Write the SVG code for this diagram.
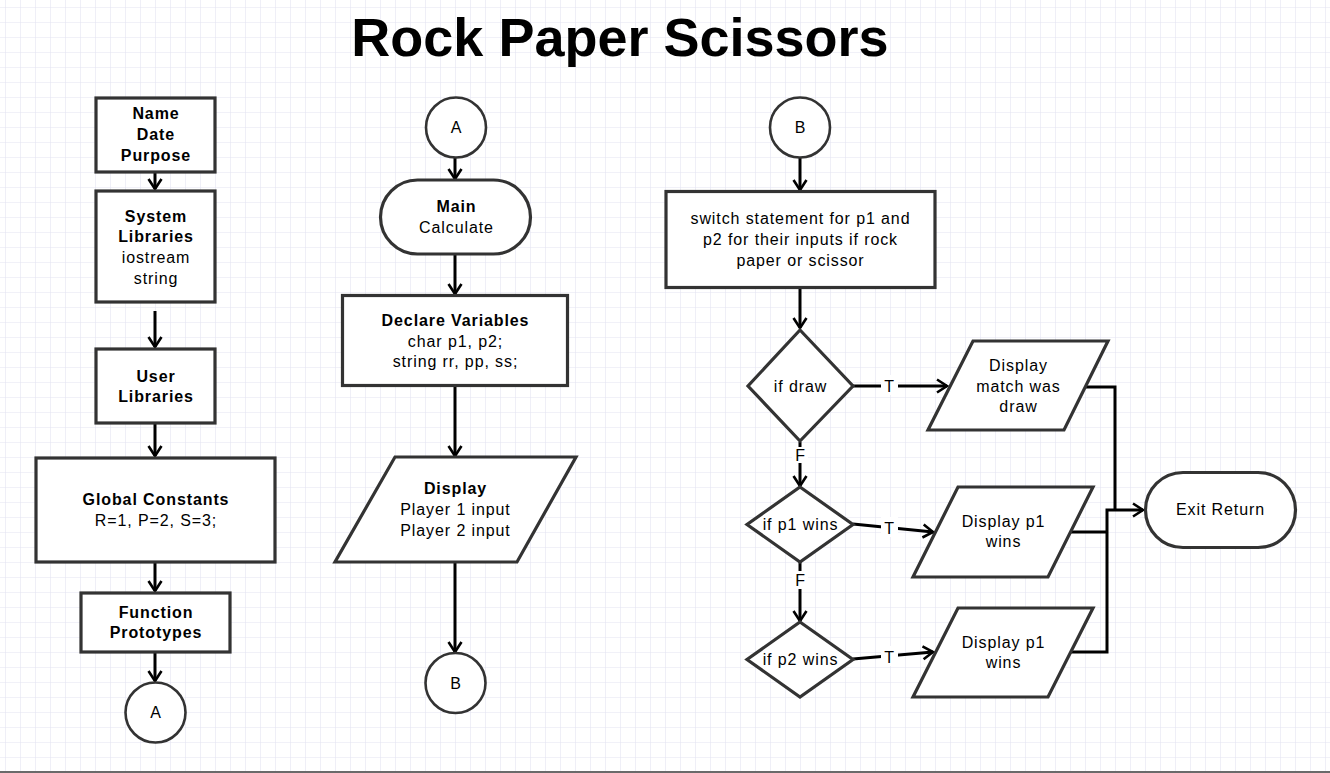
<svg xmlns="http://www.w3.org/2000/svg" width="1330" height="773" viewBox="0 0 1330 773">
<defs>
<pattern id="grid" x="5" y="7" width="15" height="15" patternUnits="userSpaceOnUse">
<path d="M0,0 H15 M0,0 V15" fill="none" stroke="#e4e4f2" stroke-width="1.2"/>
</pattern>
<marker id="arr" viewBox="-12 -8 14 16" refX="0" refY="0" markerWidth="14" markerHeight="16" orient="auto" markerUnits="userSpaceOnUse">
<path d="M-10,-6.5 L0,0 L-10,6.5" fill="none" stroke="#000" stroke-width="2.6"/>
</marker>
<style>
.box{fill:#fff;stroke:#333;stroke-width:3.2}
.circ{fill:#fff;stroke:#333;stroke-width:2.6}
.t{font-family:"Liberation Sans",Arial,sans-serif;font-size:16px;letter-spacing:0.9px;fill:#000;text-anchor:middle}
.b{font-weight:bold}
.c{fill:none;stroke:#000;stroke-width:3}
.lbl{fill:#fff;stroke:none}
</style>
</defs>
<rect x="0" y="0" width="1330" height="773" fill="#fff"/>
<rect x="0" y="0" width="1330" height="773" fill="url(#grid)"/>
<line x1="0" y1="772" x2="1330" y2="772" stroke="#6a6a6a" stroke-width="2"/>

<text x="620" y="56" style="font-family:'Liberation Sans',Arial,sans-serif;font-size:54px;font-weight:bold;text-anchor:middle">Rock Paper Scissors</text>

<g id="connectors">
<path class="c" d="M155,172 V189" marker-end="url(#arr)"/>
<path class="c" d="M155,311 V347" marker-end="url(#arr)"/>
<path class="c" d="M155,423 V456" marker-end="url(#arr)"/>
<path class="c" d="M155,563 V591" marker-end="url(#arr)"/>
<path class="c" d="M155,652 V681" marker-end="url(#arr)"/>

<path class="c" d="M455,158 V179" marker-end="url(#arr)"/>
<path class="c" d="M455,254 V294" marker-end="url(#arr)"/>
<path class="c" d="M455,386 V456" marker-end="url(#arr)"/>
<path class="c" d="M455,562 V652" marker-end="url(#arr)"/>

<path class="c" d="M800,158 V190" marker-end="url(#arr)"/>
<path class="c" d="M800,288 V328" marker-end="url(#arr)"/>
<path class="c" d="M800,442 V486" marker-end="url(#arr)"/>
<path class="c" d="M800,562 V621" marker-end="url(#arr)"/>
<path class="c" d="M853,386 H947" marker-end="url(#arr)"/>
<path class="c" d="M853,524 L933,532" marker-end="url(#arr)"/>
<path class="c" d="M853,659 L933,652" marker-end="url(#arr)"/>
<path class="c" d="M1085,387 H1115 V510"/>
<path class="c" d="M1071,532 H1107"/>
<path class="c" d="M1071,652 H1107 V510 H1143" marker-end="url(#arr)"/>

<rect class="lbl" x="881" y="375" width="17" height="20"/>
<text class="t" x="889.5" y="392">T</text>
<rect class="lbl" x="881" y="517" width="17" height="20"/>
<text class="t" x="889.5" y="534">T</text>
<rect class="lbl" x="881" y="646" width="17" height="20"/>
<text class="t" x="889.5" y="663">T</text>
<rect class="lbl" x="792" y="447" width="16" height="16"/>
<text class="t" x="800.5" y="461">F</text>
<rect class="lbl" x="792" y="571" width="16" height="18"/>
<text class="t" x="800.5" y="586">F</text>
</g>

<g id="n_header">
<rect class="box" x="96" y="98" width="119" height="74"/>
<text class="t b" x="156" y="119">Name</text>
<text class="t b" x="156" y="140">Date</text>
<text class="t b" x="156" y="161">Purpose</text>
</g>
<g id="n_syslib">
<rect class="box" x="96" y="191" width="119" height="111"/>
<text class="t b" x="156" y="222">System</text>
<text class="t b" x="156" y="242">Libraries</text>
<text class="t" x="156" y="263">iostream</text>
<text class="t" x="156" y="284">string</text>
</g>
<g id="n_userlib">
<rect class="box" x="96" y="349" width="119" height="74"/>
<text class="t b" x="156" y="382">User</text>
<text class="t b" x="156" y="402">Libraries</text>
</g>
<g id="n_globals">
<rect class="box" x="36" y="458" width="239" height="104"/>
<text class="t b" x="156" y="505">Global Constants</text>
<text class="t" x="156" y="526">R=1, P=2, S=3;</text>
</g>
<g id="n_protos">
<rect class="box" x="81" y="593" width="149" height="59"/>
<text class="t b" x="156" y="618">Function</text>
<text class="t b" x="156" y="638">Prototypes</text>
</g>
<g id="n_A1">
<circle class="circ" cx="155.5" cy="712.5" r="30"/>
<text class="t" x="156" y="718">A</text>
</g>

<g id="n_A2">
<circle class="circ" cx="456" cy="127.5" r="30"/>
<text class="t" x="456.5" y="133">A</text>
</g>
<g id="n_main">
<rect class="box" x="380.5" y="180" width="150" height="74" rx="37" ry="37"/>
<text class="t b" x="456.5" y="212">Main</text>
<text class="t" x="456.5" y="233">Calculate</text>
</g>
<g id="n_declare">
<rect class="box" x="342.5" y="295.5" width="225" height="90"/>
<text class="t b" x="455.5" y="326">Declare Variables</text>
<text class="t" x="455.5" y="347">char p1, p2;</text>
<text class="t" x="455.5" y="367">string rr, pp, ss;</text>
</g>
<g id="n_display">
<polygon class="box" points="395,457 576,457 517,562 335,562"/>
<text class="t b" x="455.5" y="494">Display</text>
<text class="t" x="455.5" y="515">Player 1 input</text>
<text class="t" x="455.5" y="536">Player 2 input</text>
</g>
<g id="n_B1">
<circle class="circ" cx="455.5" cy="683" r="30"/>
<text class="t" x="456" y="689">B</text>
</g>

<g id="n_B2">
<circle class="circ" cx="800" cy="127.5" r="30"/>
<text class="t" x="800.5" y="133">B</text>
</g>
<g id="n_switch">
<rect class="box" x="666" y="191.5" width="269" height="96"/>
<text class="t" x="800.5" y="224">switch statement for p1 and</text>
<text class="t" x="800.5" y="245">p2 for their inputs if rock</text>
<text class="t" x="800.5" y="266">paper or scissor</text>
</g>
<g id="n_ifdraw">
<polygon class="box" points="800,330 853,386 800,441 748,386"/>
<text class="t" x="800.5" y="392">if draw</text>
</g>
<g id="n_dispdraw">
<polygon class="box" points="973,341 1108,341 1064,430 928,430"/>
<text class="t" x="1018.5" y="371">Display</text>
<text class="t" x="1018.5" y="392">match was</text>
<text class="t" x="1018.5" y="412">draw</text>
</g>
<g id="n_ifp1">
<polygon class="box" points="800,487 853,524.5 800,562 747,524.5"/>
<text class="t" x="800.5" y="530">if p1 wins</text>
</g>
<g id="n_dispp1">
<polygon class="box" points="958,487 1093,487 1048,577 913,577"/>
<text class="t" x="1003.5" y="527">Display p1</text>
<text class="t" x="1003.5" y="547">wins</text>
</g>
<g id="n_ifp2">
<polygon class="box" points="800,622 853,659.5 800,697 747,659.5"/>
<text class="t" x="800.5" y="665">if p2 wins</text>
</g>
<g id="n_dispp2">
<polygon class="box" points="958,608 1093,608 1048,697 913,697"/>
<text class="t" x="1003.5" y="648">Display p1</text>
<text class="t" x="1003.5" y="668">wins</text>
</g>
<g id="n_exit">
<rect class="box" x="1145.5" y="472.5" width="150" height="75" rx="37.5" ry="37.5"/>
<text class="t" x="1220.5" y="515">Exit Return</text>
</g>
</svg>
